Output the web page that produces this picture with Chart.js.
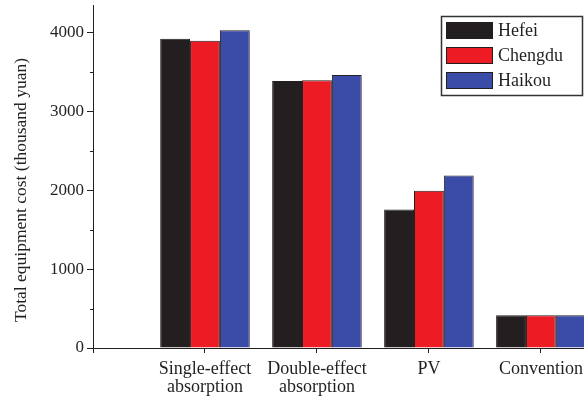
<!DOCTYPE html>
<html>
<head>
<meta charset="utf-8">
<script src="https://cdn.jsdelivr.net/npm/chart.js@4/dist/chart.umd.min.js"></script>
<style>
html,body{margin:0;padding:0;background:#fff;}
canvas{display:block;}
</style>
</head>
<body>
<canvas id="c" width="584" height="401"></canvas>
<script>
const categories = [["Single-effect","absorption"],["Double-effect","absorption"],["PV"],["Convention"]];
const categoryPositions = [1, 2, 3, 4];
const seriesNames = ["Hefei", "Chengdu", "Haikou"];
const hefei = [3925, 3390, 1760, 415];
const chengdu = [3900, 3400, 1995, 415];
const haikou = [4035, 3465, 2190, 415];
const yTicks = [0, 1000, 2000, 3000, 4000];
const yMinorTicks = [500, 1500, 2500, 3500];
const yTitle = 'Total equipment cost (thousand yuan)';
const colors = ["#231f20", "#ed1c24", "#3b4ba8"];
const ink = "#231f20";
const serif = "'Liberation Serif', 'DejaVu Serif', serif";

function toPoints(vals){ return vals.map((v,i)=>({x:categoryPositions[i], y:v})); }

const minorTicksPlugin = {
  id: 'minorTicks',
  afterDraw(chart){
    const ctx = chart.ctx, y = chart.scales.y;
    ctx.save();
    ctx.strokeStyle = ink; ctx.lineWidth = 1;
    yMinorTicks.forEach(v=>{
      const py = Math.round(y.getPixelForValue(v)) + 0.5;
      ctx.beginPath(); ctx.moveTo(y.right - 3, py); ctx.lineTo(y.right, py); ctx.stroke();
    });
    // axis title
    ctx.translate(21, 190);
    ctx.rotate(-Math.PI/2);
    ctx.fillStyle = ink;
    ctx.font = "17.5px " + serif;
    ctx.textAlign = "center"; ctx.textBaseline = "middle";
    ctx.fillText(yTitle, 0, 0);
    ctx.restore();
  }
};

const legendPlugin = {
  id: 'boxLegend',
  afterDraw(chart){
    const ctx = chart.ctx;
    ctx.save();
    ctx.strokeStyle = "#333"; ctx.lineWidth = 1.5;
    ctx.strokeRect(441.5, 16.5, 141, 79);
    chart.data.datasets.forEach((ds, i)=>{
      const cy = 30.5 + i*25;
      ctx.fillStyle = ds.backgroundColor;
      ctx.fillRect(446, cy - 8.5, 47, 17);
      ctx.strokeStyle = ink; ctx.lineWidth = 1;
      ctx.strokeRect(446.5, cy - 8, 46, 16);
      ctx.fillStyle = ink;
      ctx.font = "18px " + serif;
      ctx.textBaseline = "middle"; ctx.textAlign = "left";
      ctx.fillText(ds.label, 498, cy + 1);
    });
    ctx.restore();
  }
};

new Chart(document.getElementById('c'), {
  type: 'bar',
  data: {
    datasets: [
      {label: seriesNames[0], data: toPoints(hefei), backgroundColor: colors[0], borderColor: ink, borderWidth: 1},
      {label: seriesNames[1], data: toPoints(chengdu), backgroundColor: colors[1], borderColor: ink, borderWidth: 1},
      {label: seriesNames[2], data: toPoints(haikou), backgroundColor: colors[2], borderColor: ink, borderWidth: 1}
    ]
  },
  options: {
    responsive: false,
    animation: false,
    layout: {padding: {top: 5, right: 0, left: 0, bottom: 0}},
    categoryPercentage: 0.8,
    barPercentage: 1.0,
    plugins: {legend: {display: false}, tooltip: {enabled: false}},
    scales: {
      x: {
        type: 'linear',
        min: 0,
        max: 4.385,
        offset: false,
        afterBuildTicks: s => { s.ticks = [0].concat(categoryPositions).map(v=>({value:v})); },
        afterFit: s => { s.height = 53; s.paddingLeft = 0; s.paddingRight = 0; },
        grid: {display: true, drawOnChartArea: false, drawTicks: true, tickLength: 5, color: ink, offset: false},
        border: {display: true, color: ink, width: 1},
        ticks: {
          color: ink, padding: 7, maxRotation: 0, autoSkip: false,
          font: {family: serif, size: 18, lineHeight: 1.0},
          callback: (v) => { const i = categoryPositions.indexOf(v); return i >= 0 ? categories[i] : ''; }
        }
      },
      y: {
        min: 0,
        max: 4355,
        afterBuildTicks: s => { s.ticks = yTicks.map(v=>({value:v})); },
        afterFit: s => { s.width = 93; s.paddingTop = 0; s.paddingBottom = 0; },
        grid: {display: true, drawOnChartArea: false, drawTicks: true, tickLength: 6, color: ink},
        border: {display: true, color: ink, width: 1},
        ticks: {color: ink, padding: 3, font: {family: serif, size: 17}, callback: v => String(v)}
      }
    }
  },
  plugins: [minorTicksPlugin, legendPlugin]
});
</script>
</body>
</html>
